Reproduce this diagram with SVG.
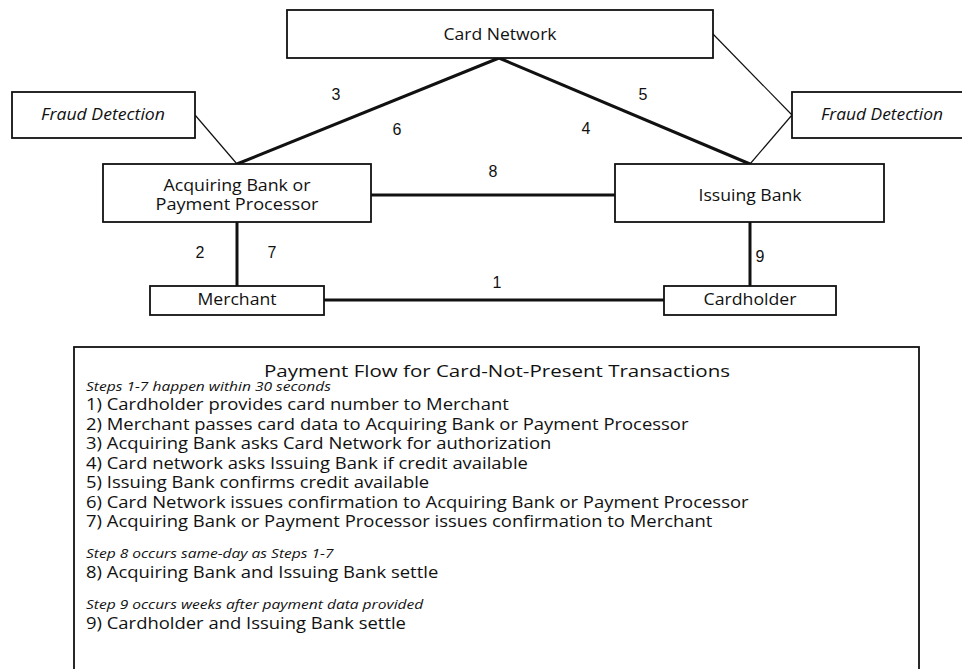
<svg xmlns="http://www.w3.org/2000/svg" width="962" height="669" viewBox="0 0 962 669">
<style>
.box{fill:#fff;stroke:#111;stroke-width:1.8}
.t{font-family:"Open Sans","Liberation Sans",sans-serif;font-size:16px;fill:#111;text-anchor:middle}
.i{font-style:italic}
.n{font-family:"Liberation Sans",Arial,sans-serif;font-size:16px;fill:#111;text-anchor:middle}
.thick{stroke:#111;stroke-width:3;fill:none}
.thin{stroke:#111;stroke-width:1.2;fill:none}
.lg{font-family:"Open Sans","Liberation Sans",sans-serif;font-size:16px;fill:#111}
.lgi{font-family:"Open Sans","Liberation Sans",sans-serif;font-size:13.5px;font-style:italic;fill:#111}
</style>
<rect width="962" height="669" fill="#fff"/>
<g id="connectors">
<line class="thick" x1="499" y1="58" x2="237" y2="164"/>
<line class="thick" x1="499" y1="58" x2="750" y2="164"/>
<line class="thin" x1="195" y1="115" x2="237" y2="164"/>
<line class="thin" x1="792" y1="115" x2="750" y2="164"/>
<line class="thin" x1="712" y1="33" x2="792" y2="115"/>
<line class="thick" x1="371" y1="195" x2="615" y2="195"/>
<line class="thick" x1="237" y1="222" x2="237" y2="286"/>
<line class="thick" x1="750" y1="222" x2="750" y2="286"/>
<line class="thick" x1="324" y1="300" x2="664" y2="300"/>
<text class="n" x="336" y="100">3</text>
<text class="n" x="397" y="135">6</text>
<text class="n" x="643" y="100">5</text>
<text class="n" x="586" y="134">4</text>
<text class="n" x="493" y="177">8</text>
<text class="n" x="200" y="258">2</text>
<text class="n" x="272" y="258">7</text>
<text class="n" x="760" y="262">9</text>
<text class="n" x="497" y="288">1</text>
</g>
<g id="card-network">
<rect class="box" x="287" y="10" width="426" height="48"/>
<text class="t" x="500" y="40" textLength="113" lengthAdjust="spacingAndGlyphs">Card Network</text>
</g>
<g id="fraud-left">
<rect class="box" x="12" y="92" width="183" height="46"/>
<text class="t i" x="103" y="120" textLength="124" lengthAdjust="spacingAndGlyphs">Fraud Detection</text>
</g>
<g id="fraud-right">
<rect class="box" x="792" y="92" width="175" height="46"/>
<text class="t i" x="882" y="120" textLength="122" lengthAdjust="spacingAndGlyphs">Fraud Detection</text>
</g>
<g id="acquiring">
<rect class="box" x="103" y="164" width="268" height="58"/>
<text class="t" x="237" y="191" textLength="147" lengthAdjust="spacingAndGlyphs">Acquiring Bank or</text>
<text class="t" x="237" y="210" textLength="163" lengthAdjust="spacingAndGlyphs">Payment Processor</text>
</g>
<g id="issuing">
<rect class="box" x="615" y="164" width="269" height="58"/>
<text class="t" x="750" y="201" textLength="103" lengthAdjust="spacingAndGlyphs">Issuing Bank</text>
</g>
<g id="merchant">
<rect class="box" x="150" y="286" width="174" height="29"/>
<text class="t" x="237" y="305" textLength="79" lengthAdjust="spacingAndGlyphs">Merchant</text>
</g>
<g id="cardholder">
<rect class="box" x="664" y="286" width="172" height="29"/>
<text class="t" x="750" y="305" textLength="93" lengthAdjust="spacingAndGlyphs">Cardholder</text>
</g>
<g id="legend">
<rect class="box" x="74" y="347" width="845" height="330"/>
<text class="lg" x="497" y="377" text-anchor="middle" font-size="19" textLength="466" lengthAdjust="spacingAndGlyphs">Payment Flow for Card-Not-Present Transactions</text>
<g transform="translate(86 0) scale(1.153 1)">
<text class="lgi" x="0" y="391">Steps 1-7 happen within 30 seconds</text>
<text class="lg" x="0" y="410">1) Cardholder provides card number to Merchant</text>
<text class="lg" x="0" y="430">2) Merchant passes card data to Acquiring Bank or Payment Processor</text>
<text class="lg" x="0" y="449">3) Acquiring Bank asks Card Network for authorization</text>
<text class="lg" x="0" y="469">4) Card network asks Issuing Bank if credit available</text>
<text class="lg" x="0" y="488">5) Issuing Bank confirms credit available</text>
<text class="lg" x="0" y="508">6) Card Network issues confirmation to Acquiring Bank or Payment Processor</text>
<text class="lg" x="0" y="527">7) Acquiring Bank or Payment Processor issues confirmation to Merchant</text>
<text class="lgi" x="0" y="558">Step 8 occurs same-day as Steps 1-7</text>
<text class="lg" x="0" y="578">8) Acquiring Bank and Issuing Bank settle</text>
<text class="lgi" x="0" y="609">Step 9 occurs weeks after payment data provided</text>
<text class="lg" x="0" y="629">9) Cardholder and Issuing Bank settle</text>
</g>
</g>
</svg>
